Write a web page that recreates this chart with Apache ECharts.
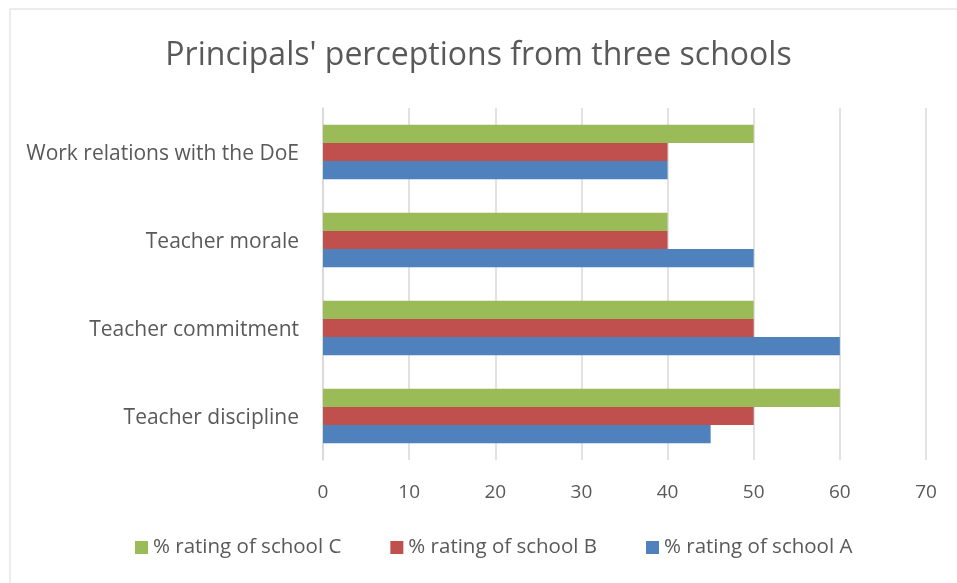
<!DOCTYPE html>
<html>
<head>
<meta charset="utf-8">
<script src="https://cdn.jsdelivr.net/npm/echarts@6/dist/echarts.min.js"></script>
<style>
  html, body { margin: 0; padding: 0; background: #fff; }
  #main { width: 957px; height: 583px; }
</style>
</head>
<body>
<div id="main"></div>
<script>
// categories from bottom to top
const categories = ['Teacher discipline', 'Teacher commitment', 'Teacher morale', 'Work relations with the DoE']
const schoolA = [45, 60, 50, 40]
const schoolB = [50, 50, 40, 40]
const schoolC = [60, 50, 40, 50]
const seriesNames = ['% rating of school A', '% rating of school B', '% rating of school C']

const textColor = '#595959'
const fontFamily = 'Open Sans, Noto Sans, sans-serif'

let myChart = echarts.init(document.getElementById('main'))

function bar (name, data, color) {
  return {
    name: name,
    type: 'bar',
    data: data,
    barGap: '0%',
    barCategoryGap: '38%',
    itemStyle: { color: color },
    emphasis: { disabled: true }
  }
}

let option = {
  animation: false,
  textStyle: { fontFamily: fontFamily },
  title: {
    text: "Principals' perceptions from three schools",
    left: 'center',
    top: 35,
    textStyle: { color: textColor, fontSize: 32, fontWeight: 'normal', fontFamily: fontFamily }
  },
  legend: {
    bottom: 20,
    left: 130,
    itemWidth: 13,
    itemHeight: 13,
    itemGap: 49,
    icon: 'rect',
    data: [seriesNames[2], seriesNames[1], seriesNames[0]],
    textStyle: { color: textColor, fontSize: 20.5, fontFamily: fontFamily }
  },
  grid: {
    left: 323,
    right: 31,
    top: 108,
    bottom: 123
  },
  xAxis: {
    type: 'value',
    min: 0,
    max: 70,
    interval: 10,
    axisLine: { show: false },
    axisTick: { show: false },
    splitLine: { lineStyle: { color: '#d9d9d9', width: 1.5 } },
    axisLabel: { color: textColor, fontSize: 19, margin: 23 }
  },
  yAxis: {
    type: 'category',
    data: categories,
    axisLine: { show: true, lineStyle: { color: '#d9d9d9', width: 1.5 } },
    axisTick: { show: false },
    axisLabel: { color: textColor, fontSize: 21, margin: 24, lineHeight: 30, verticalAlign: 'top', padding: [-13, 0, 0, 0] }
  },
  graphic: [{
    type: 'rect',
    shape: { x: 10, y: 9, width: 960, height: 600 },
    style: { fill: 'none', stroke: '#d9d9d9', lineWidth: 1 },
    silent: true
  }],
  // ECharts stacks the first series at the top of each band, so C goes first
  series: [
    bar(seriesNames[2], schoolC, '#9BBB59'),
    bar(seriesNames[1], schoolB, '#C0504D'),
    bar(seriesNames[0], schoolA, '#4F81BD')
  ]
}

myChart.setOption(option, true)
</script>
</body>
</html>
